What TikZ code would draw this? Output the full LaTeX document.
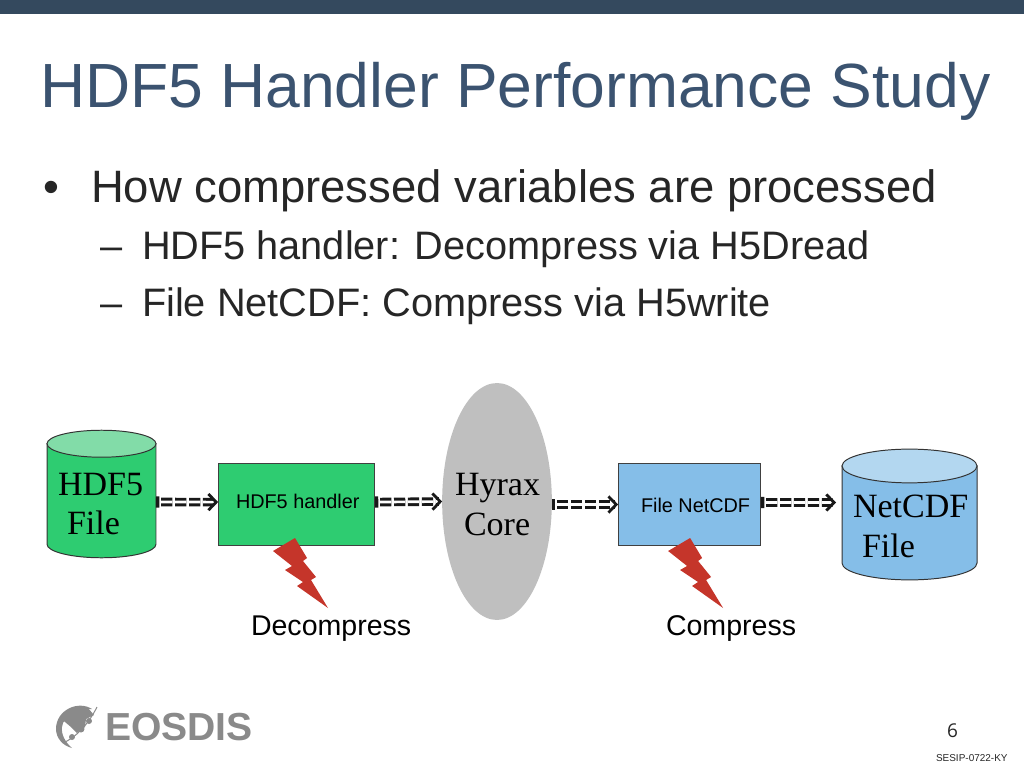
\documentclass[tikz,border=0pt]{standalone}
\usepackage{fontspec}
\setmainfont{Liberation Sans}
\newfontfamily\serifface{Liberation Serif}
\newfontfamily\numface{Open Sans}
\usetikzlibrary{arrows.meta,shapes.geometric}
\definecolor{barblue}{HTML}{34495E}
\definecolor{titleblue}{HTML}{3B5370}
\definecolor{boxgreen}{HTML}{2ECC71}
\definecolor{topgreen}{HTML}{82DCA8}
\definecolor{boxblue}{HTML}{85BEE8}
\definecolor{topblue}{HTML}{B3D7F0}
\definecolor{boltred}{HTML}{C5352A}
\definecolor{logogray}{HTML}{8A8A8A}
\newcommand{\drumshape}[5]{%
  \draw[draw=black!80,line width=0.7pt,fill=#4] (#1.north west) -- (#1.south west)
    arc[start angle=180,end angle=360,x radius=#2,y radius=#3] -- (#1.north east) -- cycle;
  \draw[draw=black!80,line width=0.7pt,fill=#5] (#1.north) ellipse [x radius=#2,y radius=#3];
}
\tikzset{
  txt/.style={anchor=base west,inner sep=0pt,outer sep=0pt,text=black},
  serif/.style={txt,font=\serifface\fontsize{24.2}{30}\selectfont},
  small/.style={txt,font=\fontsize{14.1}{17}\selectfont},
  tag/.style={txt,font=\fontsize{20.3}{24}\selectfont},
  headtxt/.style={txt,text=black!85,font=\fontsize{32.3}{38}\selectfont},
  subtxt/.style={txt,text=black!85,font=\fontsize{28.25}{32}\selectfont},
  filebox/.style={draw=black!75,line width=0.7pt,inner sep=0pt,outer sep=0pt},
  drum/.style={inner sep=0pt,outer sep=0pt},
  flow/.style={line width=2.1pt,double,double distance=1.9pt,draw=black!90,
    dash pattern=on 8pt off 1.9pt,dash phase=8pt,
    {Rectangle[length=2.4pt,width=8pt,black!90]}-{Straight Barb[length=5.5pt,width=11.5pt,line width=2pt,black!90]}},
  bolt/.pic={\fill[boltred] (273,551) -- (295,538) -- (307,558) -- (303,561) -- (316,577)
    -- (311,580) -- (328,608) -- (297,586) -- (303,582) -- (285,570) -- (292,566) -- cycle;}
}
\begin{document}
\begin{tikzpicture}[x=0.025cm,y=-0.025cm]
  \useasboundingbox (0,0) rectangle (1024,768);
  \fill[barblue] (0,0) rectangle (1024,14);
  % heading and bullets
  \node[txt,text=titleblue,font=\fontsize{44.4}{50}\selectfont] (heading) at (40,108) {HDF5 Handler Performance Study};
  \node[headtxt] (bulletmark) at (43,202) {•};
  \node[headtxt] (bulletone) at (91,202) {How compressed variables are processed};
  \node[subtxt] (dashone) at (100,259) {–};
  \node[subtxt] (subone) at (142,259) {HDF5 handler: Decompress via H5Dread};
  \node[subtxt] (dashtwo) at (100,316) {–};
  \node[subtxt] (subtwo) at (142,316) {File NetCDF: Compress via H5write};
  % the chain
  \node[drum,minimum width=77.5pt,minimum height=71.5pt] (hdffile) at (101.5,494) {};
  \drumshape{hdffile}{38.75pt}{9.6pt}{boxgreen}{topgreen}
  \node[filebox,fill=boxgreen,minimum width=111.5pt,minimum height=59pt] (handler) at (296.5,504.5) {};
  \node[ellipse,fill=black!25,inner sep=0pt,outer sep=0pt,minimum width=78pt,minimum height=168.5pt] (hyrax) at (497,501.5) {};
  \node[filebox,fill=boxblue,minimum width=101.5pt,minimum height=59pt] (netcdf) at (689.5,504.5) {};
  \node[drum,minimum width=96pt,minimum height=69pt] (ncfile) at (909.5,514.5) {};
  \drumshape{ncfile}{48pt}{12pt}{boxblue}{topblue}
  \draw[flow] ([yshift=-0.2cm]hdffile.east) -- ([yshift=0.06cm]handler.west);
  \draw[flow] ([yshift=0.06cm]handler.east) -- (hyrax.west);
  \draw[flow] (hyrax.east |- netcdf.west) -- (netcdf.west);
  \draw[flow] ([yshift=0.05cm]netcdf.east) -- ([xshift=-0.15cm,yshift=0.3cm]ncfile.west);
  \pic {bolt};
  \pic[xshift=9.875cm] {bolt};
  % labels
  \node[serif] (hdfa) at (58,495) {HDF5};
  \node[serif] (hdfb) at (67,534) {File};
  \node[small] (handlertxt) at (236,508) {HDF5 handler};
  \node[serif] (hyraxa) at (455,495) {Hyrax};
  \node[serif] (hyraxb) at (464,535) {Core};
  \node[small] (netcdftxt) at (641,512) {File NetCDF};
  \node[serif] (nca) at (853,517) {NetCDF};
  \node[serif] (ncb) at (862,557) {File};
  \node[tag] (decompress) at (251,635) {Decompress};
  \node[tag] (compress) at (666,635) {Compress};
  % logo
  \fill[logogray] (92,709) .. controls (78,700) and (56,710) .. (56,729)
    .. controls (56,738) and (63,746) .. (72,748) .. controls (65,742) and (61,734) .. (62,727)
    .. controls (63,716) and (78,708) .. (92,709) -- cycle;
  \fill[logogray] (60,718) -- (72,708) -- (88,708) -- (94,715) -- (86,719) -- (85,727) -- (77,733) -- (71,727) -- (65,722) -- cycle;
  \draw[logogray,line width=0.7pt] (63,743) .. controls (75,738) and (88,725) .. (97,707);
  \fill[logogray] (72,737) circle (3) (81,729) circle (3.5) (89,721) circle (3);
  \node[txt,text=logogray,font=\bfseries\fontsize{27.8}{30}\selectfont] (logotxt) at (105,740) {EOSDIS};
  % footer
  \node[txt,text=black!85,font=\numface\fontsize{13.5}{16}\selectfont] (pagenum) at (947,737) {6};
  \node[txt,text=black!85,font=\fontsize{7.1}{9}\selectfont] (sesip) at (936,761) {SESIP-0722-KY};
\end{tikzpicture}
\end{document}
